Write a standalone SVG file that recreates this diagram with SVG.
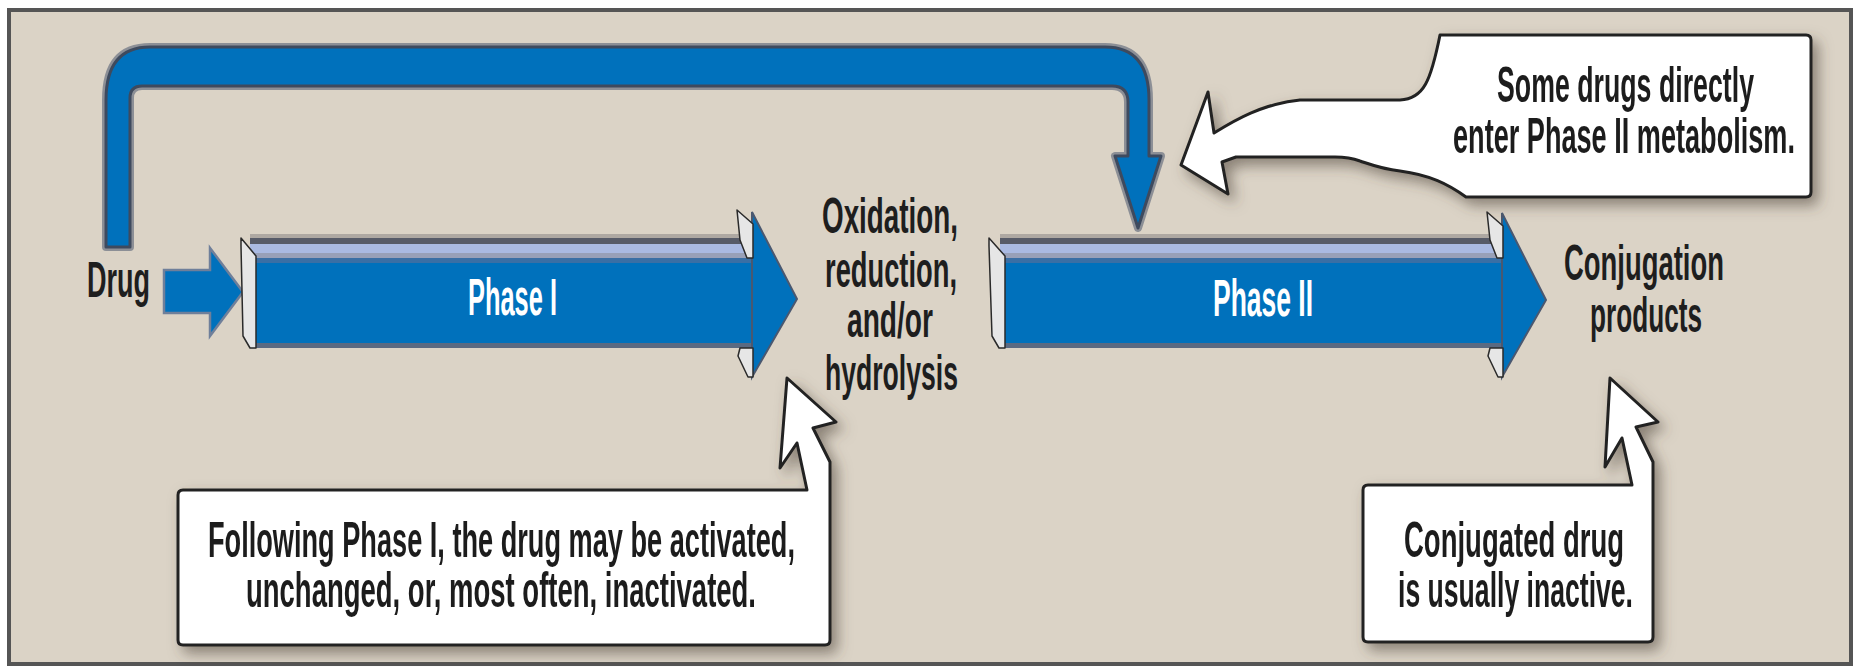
<svg xmlns="http://www.w3.org/2000/svg" width="1860" height="667" viewBox="0 0 1860 667">
<defs>
<style>
.t{font-family:"Liberation Sans",Arial,sans-serif;font-size:50px;font-weight:bold;fill:#1e1e1e}
.w{font-family:"Liberation Sans",Arial,sans-serif;font-size:52px;font-weight:bold;fill:#ffffff}
.blue{fill:#0071bc}
.cap{fill:#e6e6e6;stroke:#2a2a2a;stroke-width:1.5;stroke-linejoin:round}
.callout{fill:#ffffff;stroke:#222222;stroke-width:3;stroke-linejoin:round}
</style>
<filter id="sh" x="-20%" y="-30%" width="150%" height="170%">
<feGaussianBlur in="SourceAlpha" stdDeviation="7"/>
<feOffset dx="6" dy="7" result="b"/>
<feFlood flood-color="#4a4036" flood-opacity="0.55"/>
<feComposite in2="b" operator="in"/>
<feMerge><feMergeNode/><feMergeNode in="SourceGraphic"/></feMerge>
</filter>
</defs>
<rect x="0" y="0" width="1860" height="667" fill="#ffffff"/>
<rect x="9" y="10" width="1842" height="654" fill="#dbd3c6" stroke="#555555" stroke-width="4"/>

<g id="connectors">
<g id="bypass-arrow">
<path d="M106,247 L106,100 Q106,47 150,47 L1105,47 Q1149,47 1149,100 L1149,156 L1161,156 L1138,228 L1115,156 L1128,156 L1128,102 Q1128,86 1112,86 L142,86 Q130,86 130,98 L130,247 Z" fill="none" stroke="#8c8f96" stroke-width="8" stroke-linejoin="round"/>
<path d="M106,247 L106,100 Q106,47 150,47 L1105,47 Q1149,47 1149,100 L1149,156 L1161,156 L1138,228 L1115,156 L1128,156 L1128,102 Q1128,86 1112,86 L142,86 Q130,86 130,98 L130,247 Z" class="blue" stroke="#3e4a5e" stroke-width="3" stroke-linejoin="round"/>
</g>
<g id="drug-arrow">
<path d="M164,270 L210,270 L210,248 L243,292 L210,336 L210,313 L164,313 Z" class="blue" stroke="#6f7f9a" stroke-width="2.5" stroke-linejoin="miter"/>
</g>
</g>

<g id="phase1">
<rect x="250" y="234" width="503" height="4" fill="#aea8a2"/>
<rect x="250" y="238" width="503" height="6" fill="#575b68"/>
<rect x="250" y="244" width="503" height="9" fill="#aabae2"/>
<rect x="250" y="253" width="503" height="5" fill="#98a0b8"/>
<rect x="250" y="258" width="503" height="5" fill="#3a6fa5"/>
<rect x="250" y="263" width="503" height="80" class="blue"/>
<rect x="250" y="343" width="503" height="5" fill="#5a6a82"/>
<polygon points="752,212 797,299 752,377" class="blue" stroke="#4a5870" stroke-width="2"/>
<polygon points="737,210 753,224 753,258 747,258 740,240" class="cap"/>
<polygon points="740,348 753,348 753,377 748,377 738,356" class="cap"/>
<polygon points="241,238 256,256 256,348 250,348 243,336 241,246" class="cap"/>
<text class="w" x="468" y="315" textLength="89" lengthAdjust="spacingAndGlyphs">Phase I</text>
</g>

<g id="phase2">
<rect x="1000" y="234" width="503" height="4" fill="#aea8a2"/>
<rect x="1000" y="238" width="503" height="6" fill="#575b68"/>
<rect x="1000" y="244" width="503" height="9" fill="#aabae2"/>
<rect x="1000" y="253" width="503" height="5" fill="#98a0b8"/>
<rect x="1000" y="258" width="503" height="5" fill="#3a6fa5"/>
<rect x="1000" y="263" width="503" height="80" class="blue"/>
<rect x="1000" y="343" width="503" height="5" fill="#5a6a82"/>
<polygon points="1502,213 1546,300 1502,377" class="blue" stroke="#4a5870" stroke-width="2"/>
<polygon points="1487,212 1503,226 1503,258 1497,258 1490,240" class="cap"/>
<polygon points="1490,348 1503,348 1503,377 1498,377 1488,356" class="cap"/>
<polygon points="989,238 1005,256 1005,348 999,348 992,336 989,246" class="cap"/>
<text class="w" x="1213" y="316" textLength="100" lengthAdjust="spacingAndGlyphs">Phase II</text>
</g>

<g id="drug">
<text class="t" x="87" y="297" textLength="63" lengthAdjust="spacingAndGlyphs">Drug</text>
</g>

<g id="oxidation">
<text class="t" x="822" y="233" textLength="136" lengthAdjust="spacingAndGlyphs">Oxidation,</text>
<text class="t" x="825" y="287" textLength="132" lengthAdjust="spacingAndGlyphs">reduction,</text>
<text class="t" x="847" y="337" textLength="86" lengthAdjust="spacingAndGlyphs">and/or</text>
<text class="t" x="825" y="390" textLength="133" lengthAdjust="spacingAndGlyphs">hydrolysis</text>
</g>

<g id="conjugation">
<text class="t" x="1564" y="280" textLength="160" lengthAdjust="spacingAndGlyphs">Conjugation</text>
<text class="t" x="1590" y="332" textLength="112" lengthAdjust="spacingAndGlyphs">products</text>
</g>

<g id="callout-direct" filter="url(#sh)">
<path class="callout" d="M1440,35 L1806,35 Q1811,35 1811,40 L1811,192 Q1811,197 1806,197 L1466,197 C1448,184 1430,175 1400,171 C1382,169 1372,165 1360,161 C1352,158 1345,157 1335,157 L1236,157 L1222,162 L1228,194 L1181,165 L1208,92 L1214,133 C1235,120 1262,104 1300,100 L1400,100 C1424,99 1431,80 1440,35 Z"/>
<text class="t" x="1497" y="102" textLength="257" lengthAdjust="spacingAndGlyphs">Some drugs directly</text>
<text class="t" x="1453" y="153" textLength="342" lengthAdjust="spacingAndGlyphs">enter Phase II metabolism.</text>
</g>

<g id="callout-phase1" filter="url(#sh)">
<path class="callout" d="M183,490 L807,490 L797,443 L780,468 L787,378 L836,422 L813,428 L830,462 L830,640 Q830,645 825,645 L183,645 Q178,645 178,640 L178,495 Q178,490 183,490 Z"/>
<text class="t" x="208" y="557" textLength="587" lengthAdjust="spacingAndGlyphs">Following Phase I, the drug may be activated,</text>
<text class="t" x="246" y="607" textLength="510" lengthAdjust="spacingAndGlyphs">unchanged, or, most often, inactivated.</text>
</g>

<g id="callout-phase2" filter="url(#sh)">
<path class="callout" d="M1368,485 L1632,485 L1622,438 L1605,467 L1610,378 L1658,422 L1636,427 L1653,462 L1653,637 Q1653,642 1648,642 L1368,642 Q1363,642 1363,637 L1363,490 Q1363,485 1368,485 Z"/>
<text class="t" x="1404" y="557" textLength="220" lengthAdjust="spacingAndGlyphs">Conjugated drug</text>
<text class="t" x="1398" y="607" textLength="235" lengthAdjust="spacingAndGlyphs">is usually inactive.</text>
</g>
</svg>
